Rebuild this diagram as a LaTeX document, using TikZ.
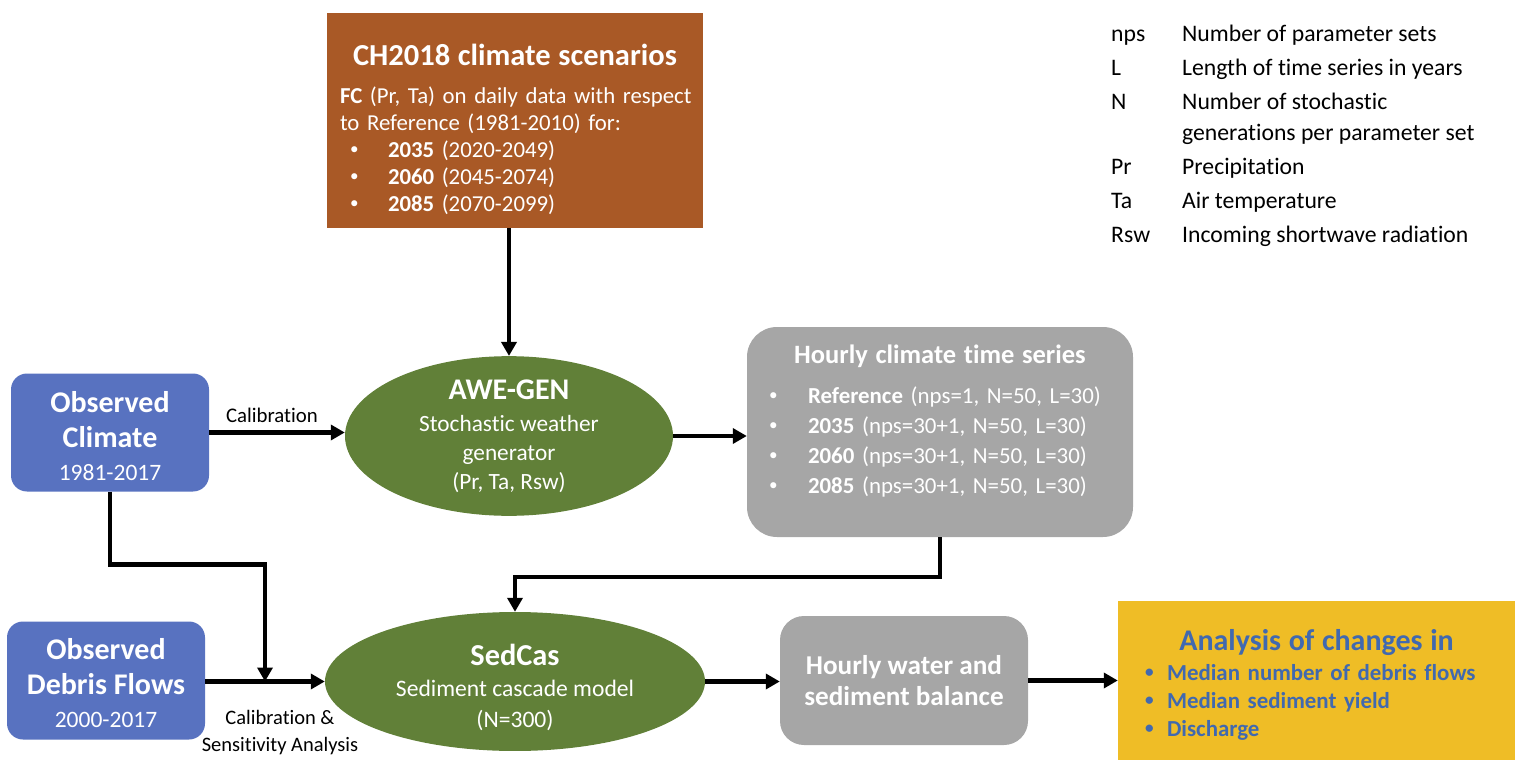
\documentclass[tikz,border=0pt]{standalone}
\usepackage{fontspec}
\setmainfont{Carlito}[Ligatures=NoCommon]
\usepackage{xcolor}
\usepackage{tikz}
\usetikzlibrary{shapes.geometric,arrows.meta}

\definecolor{chbrown}{RGB}{169,89,38}
\definecolor{obsblue}{RGB}{88,114,192}
\definecolor{modgreen}{RGB}{97,128,56}
\definecolor{outgray}{RGB}{166,166,166}
\definecolor{anayellow}{RGB}{239,189,38}
\definecolor{anablue}{RGB}{65,105,175}

\newcommand{\dotmark}{\raisebox{0.12em}{\scalebox{0.75}{\textbullet}}}

\begin{document}
\begin{tikzpicture}[x=1pt, y=-1pt,
    flow/.style={line width=4.5pt, -{Triangle[length=14pt,width=15pt]}},
    obsbox/.style={rectangle, fill=obsblue, rounded corners=16pt, text=white, align=center, minimum width=198pt, minimum height=118pt, font=\fontsize{30}{35}\selectfont\bfseries},
    model/.style={ellipse, fill=modgreen, text=white, align=center, inner sep=0pt},
    graybox/.style={rectangle, fill=outgray, text=white}]
    \useasboundingbox (0,0) rectangle (1519,762);
    % CH2018 scenarios
    \node[rectangle, fill=chbrown, text=white, minimum width=376pt, minimum height=215pt, inner xsep=7pt, text width=362pt, align=left, font=\fontsize{22.8}{27}\selectfont] (ch) at (515,120.5)
        {\makebox[362pt]{\rule{0pt}{39pt}\fontsize{30.5}{33}\selectfont\bfseries CH2018 climate scenarios}\\[11pt]
         \hspace*{6pt}\textbf{FC} (Pr, Ta) on daily data with respect\\
         \hspace*{6pt}to Reference (1981-2010) for:\\
         \hspace*{16pt}\makebox[38pt][l]{\dotmark}\textbf{2035} (2020-2049)\\
         \hspace*{16pt}\makebox[38pt][l]{\dotmark}\textbf{2060} (2045-2074)\\
         \hspace*{16pt}\makebox[38pt][l]{\dotmark}\textbf{2085} (2070-2099)};
    % Legend
    \node[anchor=base west, inner sep=0pt, font=\fontsize{23.7}{29}\selectfont] (legend) at (1111,42)
        {\renewcommand{\arraystretch}{1.17}%
         \begin{tabular}[t]{@{}p{71pt}@{}l@{}}
         nps & Number of parameter sets\\
         L & Length of time series in years\\
         N & Number of stochastic\\[-3pt]
           & generations per parameter set\\
         Pr & Precipitation\\
         Ta & Air temperature\\
         Rsw & Incoming shortwave radiation
         \end{tabular}};
    % Observations
    \node[obsbox] (obsc) at (110,432.5)
        {\rule{0pt}{29pt}Observed\\Climate\\[-2pt]{\fontsize{23.5}{33}\selectfont\mdseries 1981-2017}};
    \node[obsbox] (obsd) at (106,680.5)
        {\rule{0pt}{27pt}Observed\\Debris Flows\\[-2pt]{\fontsize{23.5}{33}\selectfont\mdseries 2000-2017}};
    % Models
    \node[model, minimum width=328pt, minimum height=152pt, font=\fontsize{23.3}{29}\selectfont] (awe) at (509,436)
        {{\fontsize{30}{33}\selectfont\bfseries AWE-GEN}\\[3pt]Stochastic weather\\generator\\(Pr, Ta, Rsw)};
    \node[model, minimum width=380pt, minimum height=127pt, font=\fontsize{23.6}{31}\selectfont] (sed) at (515,681.5)
        {{\rule{0pt}{33pt}\fontsize{30.4}{33}\selectfont\bfseries SedCas}\\Sediment cascade model\\(N=300)};
    % Outputs
    \node[graybox, rounded corners=30pt, minimum width=386pt, minimum height=210pt, inner xsep=22pt, text width=342pt, align=left, font=\fontsize{22.9}{30}\selectfont] (hcs) at (940,432)
        {\makebox[342pt]{\fontsize{26.5}{30}\selectfont\bfseries Hourly climate time series}\\[10pt]
         \makebox[39pt][l]{\dotmark}\textbf{Reference} (nps=1, N=50, L=30)\\
         \makebox[39pt][l]{\dotmark}\textbf{2035} (nps=30+1, N=50, L=30)\\
         \makebox[39pt][l]{\dotmark}\textbf{2060} (nps=30+1, N=50, L=30)\\
         \makebox[39pt][l]{\dotmark}\textbf{2085} (nps=30+1, N=50, L=30)\rule[-26pt]{0pt}{1pt}};
    \node[graybox, rounded corners=24pt, minimum width=248pt, minimum height=129pt, align=center, font=\fontsize{27.2}{31}\selectfont\bfseries] (hws) at (904,680.5)
        {Hourly water and\\sediment balance};
    % Analysis
    \node[rectangle, fill=anayellow, text=anablue, minimum width=397pt, minimum height=159pt, inner xsep=27pt, text width=343pt, align=left, font=\fontsize{22.9}{28}\selectfont\bfseries] (ana) at (1316.5,680.5)
        {\makebox[343pt]{\rule{0pt}{30pt}\fontsize{30}{32}\selectfont\bfseries Analysis of changes in}\\[2pt]
         \makebox[22pt][l]{\dotmark}Median number of debris flows\\
         \makebox[22pt][l]{\dotmark}Median sediment yield\\
         \makebox[22pt][l]{\dotmark}Discharge};
    % Arrows
    \draw[flow] (awe.north |- ch.south) -- (awe.north);
    \draw[flow] (obsc.east) -- (awe.west |- obsc.east);
    \node[font=\fontsize{20.8}{24}\selectfont] (callab) at (272,415) {Calibration};
    \draw[flow] (awe.east) -- (hcs.west |- awe.east);
    \coordinate (mrg) at (265,681.5);
    \draw[flow] (obsc.south) -- ++(0,73) -| (mrg);
    \draw[flow] (obsd.east |- sed.west) -- (sed.west);
    \node[align=center, font=\fontsize{20.5}{27}\selectfont] (senslab) at (280,733) {Calibration \&\\Sensitivity Analysis};
    \draw[flow] (hcs.south) -- ++(0,40) -| (sed.north);
    \draw[flow] (sed.east) -- (hws.west |- sed.east);
    \draw[flow] (hws.east) -- (ana.west |- hws.east);
\end{tikzpicture}
\end{document}
